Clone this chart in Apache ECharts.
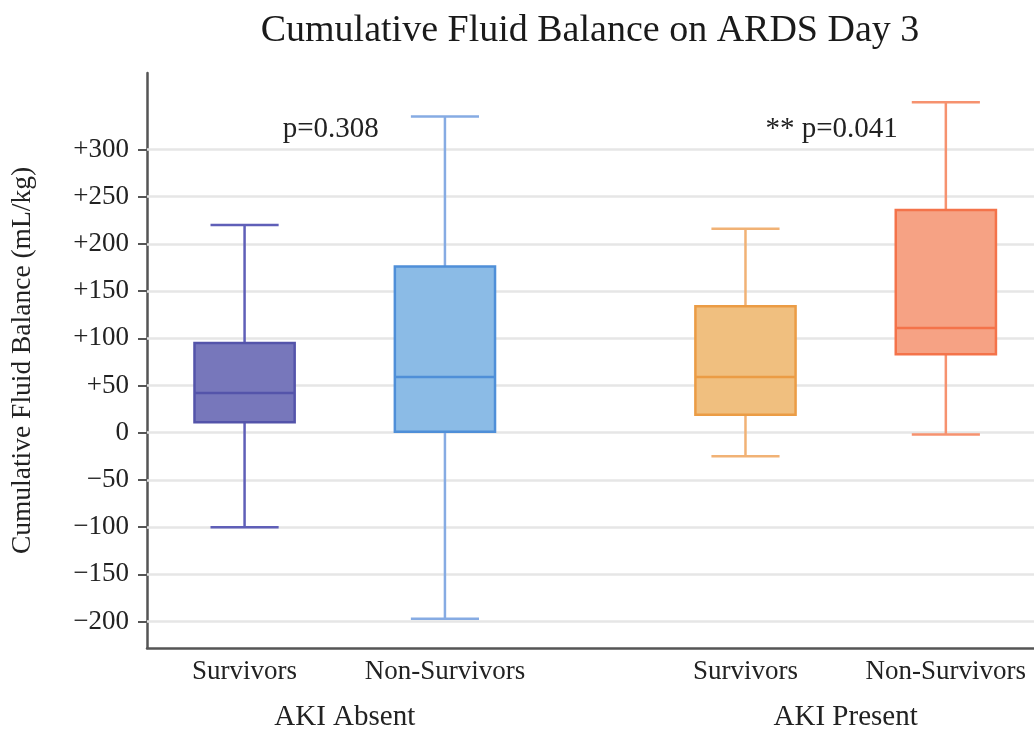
<!DOCTYPE html>
<html>
<head>
<meta charset="utf-8">
<script src="https://cdn.jsdelivr.net/npm/echarts@6/dist/echarts.min.js"></script>
<style>
html,body{margin:0;padding:0;background:#fff}
#main{width:1034px;height:734px}
</style>
</head>
<body>
<div id="main"></div>
<script>
// categories
const groups = ['AKI Absent', 'AKI Present']
const subgroups = ['Survivors', 'Non-Survivors', 'Survivors', 'Non-Survivors']
const groupOf = [0, 0, 1, 1]

// box stats (mL/kg)
const whiskerLow = [-100, -197, -25, -2]
const q1 = [11, 1, 19, 83]
const median = [42, 59, 59, 111]
const q3 = [95, 176, 134, 236]
const whiskerHigh = [220, 335, 216, 350]

// y tick labels
const yTicks = [-200, -150, -100, -50, 0, 50, 100, 150, 200, 250, 300]

// p values per group
const pTexts = ['p=0.308', '** p=0.041']

const fills = ['#7777bb', '#8bbbe6', '#f0bf7f', '#f6a284']
const borders = ['#5454aa', '#4f8fd8', '#eb9c45', '#f4734a']
const whiskerColors = ['#5f5fb8', '#86abe3', '#f1b275', '#f6926f']

const FONT = 'Liberation Serif'
const GROUP_GAP = 0.5

// x position of each box: index + extra gap per group
const xPos = subgroups.map((s, i) => i + groupOf[i] * GROUP_GAP)
const groupCenters = groups.map((g, gi) => {
    const xs = xPos.filter((x, i) => groupOf[i] === gi)
    return (xs[0] + xs[xs.length - 1]) / 2
})

const boxData = subgroups.map((s, i) => [xPos[i], whiskerLow[i], q1[i], median[i], q3[i], whiskerHigh[i], i])

function fmtY(v) {
    if (v > 0) return '+' + v
    if (v < 0) return '\u2212' + Math.abs(v)
    return '0'
}

const chart = echarts.init(document.getElementById('main'))

chart.setOption({
    animation: false,
    backgroundColor: '#fff',
    textStyle: {fontFamily: FONT},
    graphic: [{
        type: 'text',
        x: 590,
        y: 12,
        style: {text: 'Cumulative Fluid Balance on ARDS Day 3', font: '38px "' + FONT + '"', fill: '#1a1a1a', textAlign: 'center'}
    }],
    grid: {left: 147, right: 0, top: 73, bottom: 86},
    xAxis: [{
        type: 'value',
        min: -0.487,
        max: 3.94,
        axisLine: {show: true, onZero: false, lineStyle: {color: '#555', width: 2.5}},
        axisTick: {show: false},
        splitLine: {show: false},
        axisLabel: {
            customValues: xPos,
            margin: 10,
            fontSize: 27,
            color: '#222',
            fontFamily: FONT,
            formatter: v => {
                const i = xPos.findIndex(x => Math.abs(x - v) < 1e-6)
                return i >= 0 ? subgroups[i] : ''
            }
        }
    }, {
        type: 'value',
        position: 'bottom',
        min: -0.487,
        max: 3.94,
        axisLine: {show: false, onZero: false},
        axisTick: {show: false},
        splitLine: {show: false},
        axisLabel: {
            customValues: groupCenters,
            margin: 55,
            fontSize: 29,
            color: '#222',
            fontFamily: FONT,
            formatter: v => {
                const i = groupCenters.findIndex(x => Math.abs(x - v) < 1e-6)
                return i >= 0 ? groups[i] : ''
            }
        }
    }],
    yAxis: {
        type: 'value',
        min: -228,
        max: 381,
        name: 'Cumulative Fluid Balance (mL/kg)',
        nameLocation: 'middle',
        nameGap: 110,
        nameTextStyle: {fontSize: 27.5, color: '#222', fontFamily: FONT},
        axisLine: {show: true, onZero: false, lineStyle: {color: '#555', width: 2.5}},
        axisTick: {show: true, customValues: yTicks, length: 9, lineStyle: {color: '#555', width: 2}},
        splitLine: {show: false},
        axisLabel: {customValues: yTicks, margin: 18, fontSize: 27, color: '#222', fontFamily: FONT, formatter: fmtY}
    },
    series: [{
        type: 'custom',
        xAxisIndex: 0,
        z: 3,
        data: boxData,
        renderItem: function (params, api) {
            const x = api.value(0)
            const i = api.value(6)
            const boxW = api.size([0.5, 0])[0]
            const capW = api.size([0.34, 0])[0]
            const pLow = api.coord([x, api.value(1)])
            const pQ1 = api.coord([x, api.value(2)])
            const pMed = api.coord([x, api.value(3)])
            const pQ3 = api.coord([x, api.value(4)])
            const pHigh = api.coord([x, api.value(5)])
            const cx = pMed[0]
            const wStyle = {stroke: whiskerColors[i], lineWidth: 2.5}
            return {
                type: 'group',
                children: [
                    {type: 'line', shape: {x1: cx, y1: pHigh[1], x2: cx, y2: pQ3[1]}, style: wStyle},
                    {type: 'line', shape: {x1: cx, y1: pQ1[1], x2: cx, y2: pLow[1]}, style: wStyle},
                    {type: 'line', shape: {x1: cx - capW / 2, y1: pHigh[1], x2: cx + capW / 2, y2: pHigh[1]}, style: wStyle},
                    {type: 'line', shape: {x1: cx - capW / 2, y1: pLow[1], x2: cx + capW / 2, y2: pLow[1]}, style: wStyle},
                    {type: 'rect', shape: {x: cx - boxW / 2, y: pQ3[1], width: boxW, height: pQ1[1] - pQ3[1]},
                        style: {fill: fills[i], stroke: borders[i], lineWidth: 2.5}},
                    {type: 'line', shape: {x1: cx - boxW / 2, y1: pMed[1], x2: cx + boxW / 2, y2: pMed[1]},
                        style: {stroke: borders[i], lineWidth: 2.5}}
                ]
            }
        },
        markLine: {
            z: 1,
            silent: true,
            symbol: 'none',
            label: {show: false},
            lineStyle: {color: '#e6e6e6', width: 2.5, type: 'solid'},
            data: yTicks.map(v => ({yAxis: v}))
        },
        markPoint: {
            z: 4,
            symbol: 'circle',
            symbolSize: 0,
            silent: true,
            label: {show: true, position: 'inside', formatter: '{b}', fontSize: 29, color: '#222', fontFamily: FONT},
            data: pTexts.map((t, gi) => ({name: t, coord: [groupCenters[gi] - 0.07, 321]}))
        }
    }]
})
</script>
</body>
</html>
